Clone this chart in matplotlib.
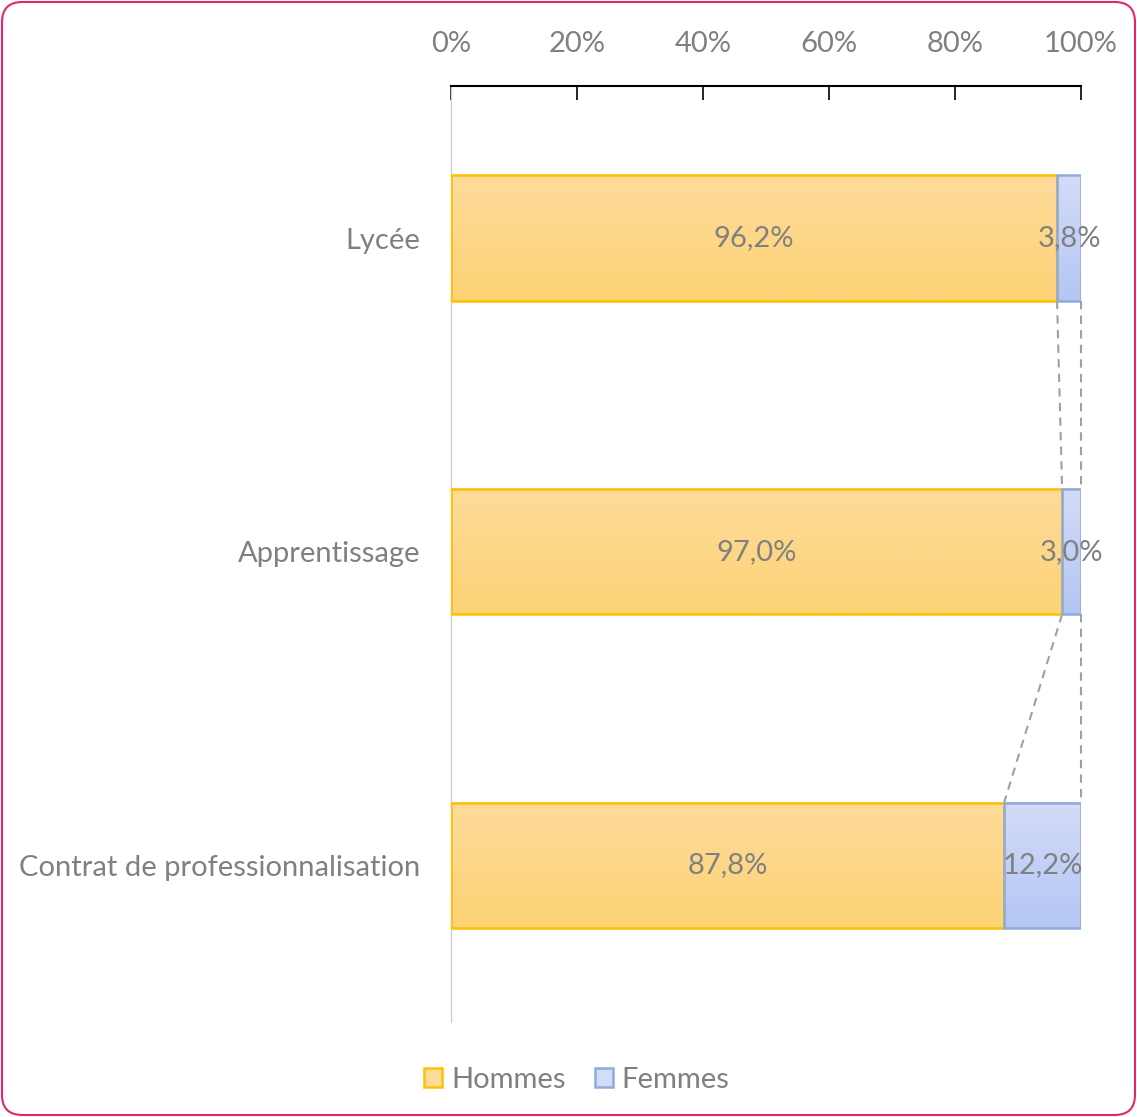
import numpy as np
import matplotlib.pyplot as plt
from matplotlib.patches import FancyBboxPatch

plt.rcParams['font.family'] = ['Lato', 'DejaVu Sans']

# Data
categories = ["Lycée", "Apprentissage", "Contrat de professionnalisation"]
hommes = [96.2, 97.0, 87.8]
femmes = [3.8, 3.0, 12.2]
series_names = ["Hommes", "Femmes"]

grey = "#808080"
orange_top, orange_bot, orange_edge = "#FDDB9A", "#FDD376", "#FFC000"
blue_top, blue_bot, blue_edge = "#D3DCF8", "#B4C6F4", "#8FAADC"
fs = 21

fig = plt.figure(figsize=(11.37, 11.17), dpi=100)
ax = fig.add_axes([451 / 1137, 1 - 1022 / 1117, 630 / 1137, 936 / 1117])

bar_h = 0.4
y = np.arange(len(categories))


def grad_bar(x0, width, yc, c_top, c_bot, edge):
    grad = np.linspace(0, 1, 64).reshape(-1, 1)
    top = np.array(plt.matplotlib.colors.to_rgb(c_top))
    bot = np.array(plt.matplotlib.colors.to_rgb(c_bot))
    img = top + (bot - top) * grad[:, :, None]
    ax.imshow(img, extent=(x0, x0 + width, yc + bar_h / 2, yc - bar_h / 2),
              aspect='auto', zorder=2, interpolation='bilinear')
    ax.add_patch(plt.Rectangle((x0, yc - bar_h / 2), width, bar_h, fill=False,
                               edgecolor=edge, linewidth=1.8, zorder=3))


def fmt(v):
    return f"{v:.1f}".replace('.', ',') + '%'


for i in range(len(categories)):
    grad_bar(0, hommes[i], y[i], orange_top, orange_bot, orange_edge)
    grad_bar(hommes[i], femmes[i], y[i], blue_top, blue_bot, blue_edge)
    ax.text(hommes[i] / 2, y[i], fmt(hommes[i]), ha='center', va='center',
            fontsize=fs, color=grey, zorder=4)
    ax.text(hommes[i] + femmes[i] / 2, y[i], fmt(femmes[i]), ha='center',
            va='center', fontsize=fs, color=grey, zorder=4)

# series lines
for i in range(len(categories) - 1):
    ax.plot([hommes[i], hommes[i + 1]], [y[i] + bar_h / 2, y[i + 1] - bar_h / 2],
            ls=(0, (4, 3)), color="#A0A0A0", lw=1.5, zorder=1, clip_on=False)
    ax.plot([100, 100], [y[i] + bar_h / 2, y[i + 1] - bar_h / 2],
            ls=(0, (4, 3)), color="#A0A0A0", lw=1.5, zorder=1, clip_on=False)

ax.set_xlim(0, 100)
ax.set_ylim(2.5, -0.485)
ax.xaxis.tick_top()
ax.set_xticks(np.arange(0, 101, 20))
ax.set_xticklabels([f"{v}%" for v in range(0, 101, 20)])
ax.tick_params(axis='x', direction='in', length=10, width=1.2, colors='black',
               labelcolor=grey, labelsize=fs, pad=21)
ax.set_yticks(y)
ax.set_yticklabels(categories)
ax.tick_params(axis='y', length=0, labelcolor=grey, labelsize=fs, pad=22)
for s in ['right', 'bottom']:
    ax.spines[s].set_visible(False)
ax.spines['top'].set_color('black')
ax.spines['top'].set_linewidth(1.5)
ax.spines['left'].set_color('#D0D0D0')
ax.spines['left'].set_linewidth(1)

# legend
handles = [plt.Rectangle((0, 0), 1, 1, facecolor=orange_top, edgecolor=orange_edge, lw=1.8),
           plt.Rectangle((0, 0), 1, 1, facecolor=blue_top, edgecolor=blue_edge, lw=1.8)]
leg = fig.legend(handles, series_names, loc='center', bbox_to_anchor=(577 / 1137, 1 - 1080 / 1117),
                 ncol=2, frameon=False, fontsize=fs, handlelength=0.62, handleheight=0.62,
                 handletextpad=0.3, columnspacing=1.0)
for t in leg.get_texts():
    t.set_color(grey)

# outer rounded border
fig.patches.append(FancyBboxPatch((2 / 1137, 2 / 1117), 1133 / 1137, 1113 / 1117,
                                  boxstyle="round,pad=0,rounding_size=0.018",
                                  transform=fig.transFigure, fill=False,
                                  edgecolor="#E6246E", linewidth=1.5))

fig.savefig("out.png", dpi=100)
